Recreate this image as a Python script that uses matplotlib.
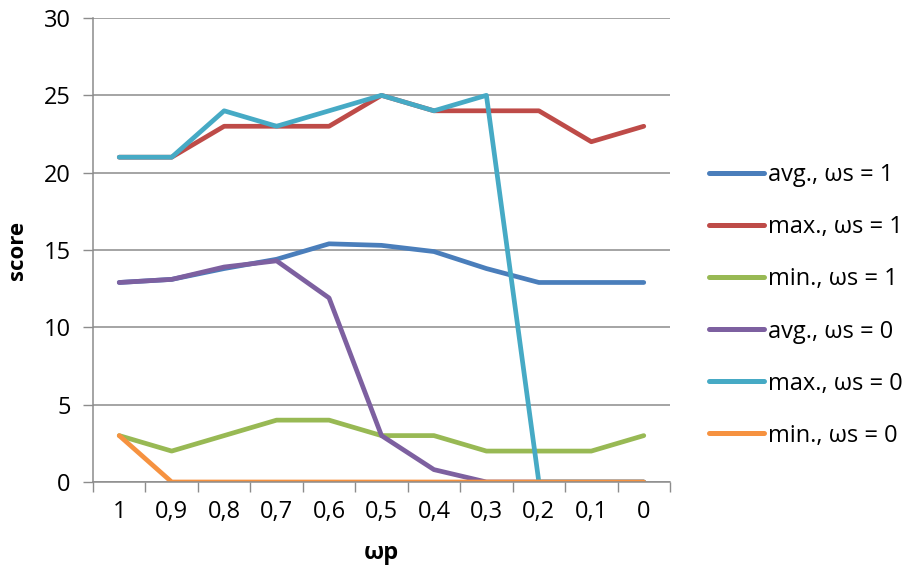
import numpy as np
import matplotlib
matplotlib.use('Agg')
import matplotlib.pyplot as plt

plt.rcParams['font.family'] = ['Open Sans', 'DejaVu Sans']

# category labels on the x axis (omega p)
wp_labels = ['1', '0,9', '0,8', '0,7', '0,6', '0,5', '0,4', '0,3', '0,2', '0,1', '0']

# series
avg_ws1 = [12.9, 13.1, 13.8, 14.4, 15.4, 15.3, 14.9, 13.8, 12.9, 12.9, 12.9]
max_ws1 = [21, 21, 23, 23, 23, 25, 24, 24, 24, 22, 23]
min_ws1 = [3, 2, 3, 4, 4, 3, 3, 2, 2, 2, 3]
avg_ws0 = [12.9, 13.1, 13.9, 14.3, 11.9, 3.0, 0.8, 0, 0, 0, 0]
max_ws0 = [21, 21, 24, 23, 24, 25, 24, 25, 0, 0, 0]
min_ws0 = [3, 0, 0, 0, 0, 0, 0, 0, 0, 0, 0]

series = [
    ('avg., \u03c9s = 1', avg_ws1, '#4A7EBB'),
    ('max., \u03c9s = 1', max_ws1, '#BE4B48'),
    ('min., \u03c9s = 1', min_ws1, '#98B954'),
    ('avg., \u03c9s = 0', avg_ws0, '#7D60A0'),
    ('max., \u03c9s = 0', max_ws0, '#46AAC5'),
    ('min., \u03c9s = 0', min_ws0, '#F69240'),
]

fig = plt.figure(figsize=(9.04, 5.74), dpi=100)
ax = fig.add_axes([93 / 904, 1 - 482 / 574, (670 - 93) / 904, (482 - 18) / 574])

x = np.arange(len(wp_labels))
for label, vals, color in series:
    ax.plot(x, vals, color=color, lw=3.4, label=label, solid_capstyle='round',
            solid_joinstyle='round')

ax.set_xlim(-0.5, len(wp_labels) - 0.5)
ax.set_ylim(0, 30)
ax.set_yticks(range(0, 31, 5))
ax.yaxis.grid(True, color='#8c8c8c', lw=1.1)
ax.set_axisbelow(True)

# categories centred between tick marks, as in the spreadsheet chart
ax.set_xticks(np.arange(-0.5, len(wp_labels), 1))
ax.set_xticklabels([])
ax.set_xticks(x, minor=True)
ax.set_xticklabels(wp_labels, minor=True)
ax.tick_params(axis='x', which='major', length=7, width=1, color='#8c8c8c', direction='out')
ax.tick_params(axis='x', which='minor', length=0, labelsize=17, pad=13)
ax.tick_params(axis='y', length=7, width=1, color='#8c8c8c', labelsize=17, pad=9)

for side in ['top', 'right']:
    ax.spines[side].set_visible(False)
for side in ['left', 'bottom']:
    ax.spines[side].set_color('#8c8c8c')
    ax.spines[side].set_linewidth(1.1)

ax.set_ylabel('score', fontsize=16, fontweight='bold', labelpad=11)
ax.set_xlabel('\u03c9p', fontsize=17, fontweight='bold', labelpad=12)

leg = fig.legend(loc='upper left', bbox_to_anchor=(688 / 904, 1 - 142 / 574),
                 frameon=False, fontsize=17, handlelength=2.3, handletextpad=0.2,
                 labelspacing=1.19)
for h in leg.get_lines():
    h.set_linewidth(3.6)

fig.savefig('out.png', dpi=100)
